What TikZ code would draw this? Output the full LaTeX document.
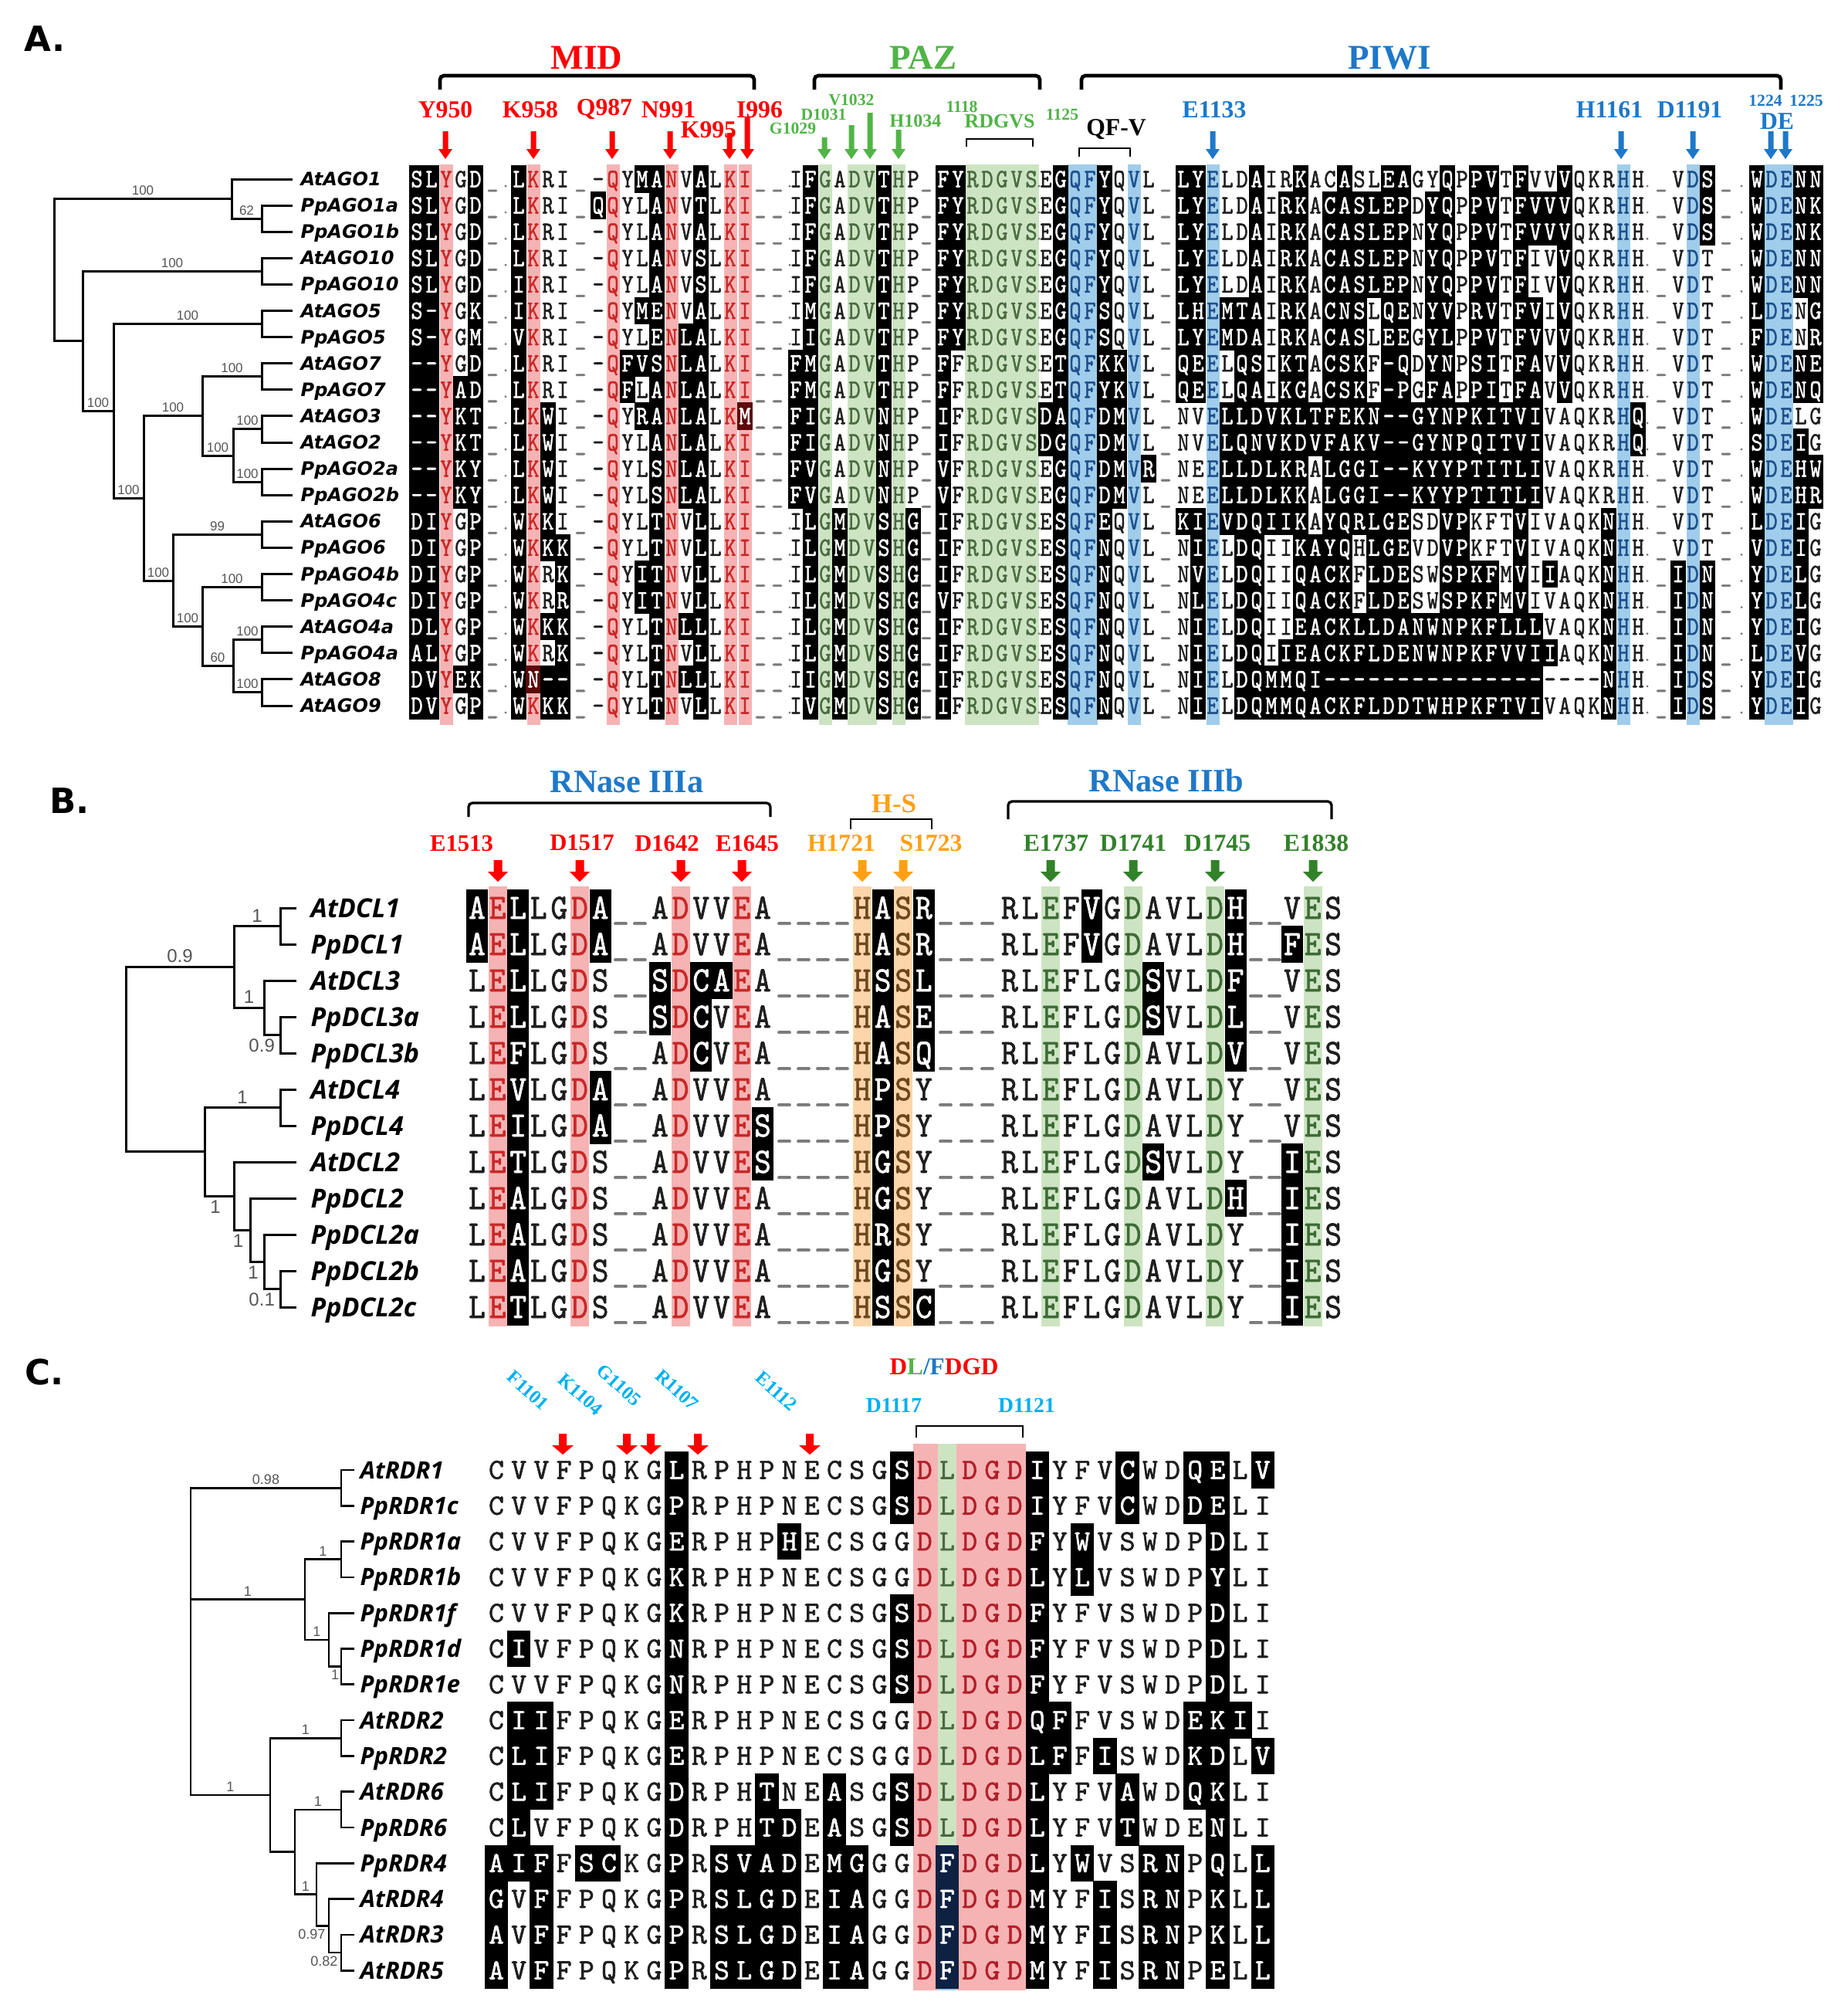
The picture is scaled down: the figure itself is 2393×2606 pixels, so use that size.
\documentclass[tikz,border=0pt]{standalone}
\usepackage{fontspec}
\usepackage{graphicx}
\usetikzlibrary{arrows.meta}
\newfontfamily\dvsans{DejaVu Sans}
\newfontfamily\osans{Open Sans}
\newfontfamily\lsans{Liberation Sans}
\newfontfamily\lserif{Liberation Serif}
\newfontfamily\seqfont[FakeBold=1.5]{lmmono10-regular.otf}
\newcommand\fsz[1]{\fontsize{#1pt}{#1pt}\selectfont}

\definecolor{tcn}{HTML}{1E1E1E}
\definecolor{tcr}{HTML}{C82828}
\definecolor{tcg}{HTML}{4A6A40}
\definecolor{tcb}{HTML}{1E508C}
\definecolor{tco}{HTML}{6E461E}
\definecolor{tcG}{HTML}{3D6B35}
\definecolor{tcd}{HTML}{B0202A}
\definecolor{bkred}{HTML}{5C0A0A}
\definecolor{bknavy}{HTML}{0E2142}
\definecolor{stpink}{HTML}{F6B3B3}
\definecolor{stgreen}{HTML}{CDE4C3}
\definecolor{stblue}{HTML}{A0CDEB}
\definecolor{storange}{HTML}{FBD6AA}
\definecolor{cred}{HTML}{FF0000}
\definecolor{cgreen}{HTML}{50B446}
\definecolor{cblue}{HTML}{1E78C8}
\definecolor{corange}{HTML}{FFA014}
\definecolor{cdgreen}{HTML}{32822A}
\definecolor{ccyan}{HTML}{00B0F0}
\definecolor{cgrey}{HTML}{555555}
\definecolor{gapgrey}{HTML}{7A7A7A}

\tikzset{
  seqch/.style={anchor=base, inner sep=0pt, outer sep=0pt},
  gapch/.style={anchor=base, inner sep=0pt, outer sep=0pt, text=gapgrey},
  bkn/.style={fill=black}, bkr/.style={fill=bkred}, bkd/.style={fill=bkred},
  bkg/.style={fill=black}, bkG/.style={fill=black}, bkb/.style={fill=bknavy}, bko/.style={fill=black},
  tline/.style={line width=0.9pt},
  brk/.style={line width=1.4pt, rounded corners=1.5pt},
  sbrk/.style={line width=0.8pt},
  plbl/.style={font=\dvsans\bfseries\fsz{13.5}, inner sep=0pt},
  domlbl/.style={font=\lserif\bfseries\fsz{13.5}, inner sep=0pt},
  reslbl/.style={font=\lserif\bfseries\fsz{9.5}, inner sep=0pt},
  smlbl/.style={font=\lserif\bfseries\fsz{6.5}, inner sep=0pt},
  bsA/.style={font=\lsans\fsz{5.1}, text=cgrey, inner sep=1pt},
  bsB/.style={font=\lsans\fsz{7.2}, text=cgrey, inner sep=1.2pt},
  bsC/.style={font=\lsans\fsz{5.4}, text=cgrey, inner sep=1pt},
  nmA/.style={font=\dvsans\bfseries\itshape\fsz{7.2}, anchor=base west, inner sep=0pt},
  nmB/.style={font=\osans\bfseries\itshape\fsz{10.2}, anchor=base west, inner sep=0pt},
  nmC/.style={font=\osans\bfseries\itshape\fsz{9.3}, anchor=base west, inner sep=0pt},
}

\newcommand\cpitch{19}
\newcommand\crowh{34.1}
\newcommand\ccap{10.5}
\newcommand\csx{0.85}
\newcommand\csqfont{\seqfont\fsz{10.3}}

\newcommand\alncell[5]{%
  \node[seqch, text=tc#4] at ({#1+#3*\cpitch}, {#2+\ccap}) {\scalebox{\csx}[1]{\csqfont #5}};}
\newcommand\alncellblack[5]{%
  \fill[bk#4] ({#1+(#3-0.5)*\cpitch-0.6}, {#2-\crowh/2-0.6}) rectangle ({#1+(#3+0.5)*\cpitch+0.6}, {#2+\crowh/2+0.6});
  \node[seqch, text=white] at ({#1+#3*\cpitch}, {#2+\ccap}) {\scalebox{\csx}[1]{\csqfont #5}};}

\ExplSyntaxOn
\int_new:N \l__aln_col_int
\tl_new:N \l__aln_tmpl_tl
\tl_new:N \l__aln_code_tl
\tl_new:N \l__aln_ch_tl
\bool_new:N \l__aln_black_bool
\NewDocumentCommand \alnseg { m m m m }
  {
    \tl_set:Nx \l__aln_tmpl_tl {#3}
    \int_zero:N \l__aln_col_int
    \tl_map_inline:nn {#4}
      {
        \tl_set:Nx \l__aln_code_tl { \tl_item:Nn \l__aln_tmpl_tl { \l__aln_col_int + 1 } }
        \str_case:nnF {##1}
          {
            { = } { \bool_set_true:N \l__aln_black_bool \tl_set:Nn \l__aln_ch_tl { - } }
            { - } { \bool_set_false:N \l__aln_black_bool \tl_set:Nn \l__aln_ch_tl { - } }
          }
          {
            \tl_set:Nx \l__aln_ch_tl { \str_uppercase:n {##1} }
            \str_if_eq:eeTF {##1} { \l__aln_ch_tl }
              { \bool_set_false:N \l__aln_black_bool }
              { \bool_set_true:N \l__aln_black_bool }
          }
        \bool_if:NTF \l__aln_black_bool
          { \use:x { \exp_not:N \alncellblack {#1} {#2} { \int_use:N \l__aln_col_int } { \l__aln_code_tl } { \l__aln_ch_tl } } }
          { \use:x { \exp_not:N \alncell {#1} {#2} { \int_use:N \l__aln_col_int } { \l__aln_code_tl } { \l__aln_ch_tl } } }
        \int_incr:N \l__aln_col_int
      }
  }
\ExplSyntaxOff

\newcommand\darr[7]{%
  \fill[#7] ({#1-#4},{#2}) -- ({#1+#4},{#2}) -- ({#1+#4},{#3-#6}) -- ({#1+#5},{#3-#6}) -- ({#1},{#3}) -- ({#1-#5},{#3-#6}) -- ({#1-#4},{#3-#6}) -- cycle;}

\newcommand\Arow[9]{%
  \pgfmathsetmacro\yy{232+34.1*#1}%
  \alnseg{540}{\yy}{nnrnn}{#2}%
  \alnseg{672}{\yy}{nrnn}{#3}%
  \alnseg{775}{\yy}{nrnnnrnnnrr}{#4}%
  \alnseg{1031}{\yy}{nngnggngn}{#5}%
  \alnseg{1222}{\yy}{nngggggnnbbnnbn}{#6}%
  \alnseg{1533}{\yy}{nnbnnnnnnnnnnnnnnnnnnnnnnnnnnnbn}{#7}%
  \alnseg{2174}{\yy}{nbn}{#8}%
  \alnseg{2276}{\yy}{nbbnn}{#9}}

\newcommand\Brow[6]{%
  \pgfmathsetmacro\yy{1176+47*#1}%
  \alnseg{618}{\yy}{nrnnnrn}{#2}%
  \alnseg{855}{\yy}{nrnnrn}{#3}%
  \alnseg{1117}{\yy}{onon}{#4}%
  \alnseg{1308}{\yy}{nnGnnnGnnnGn}{#5}%
  \alnseg{1674}{\yy}{nGn}{#6}}

\newcommand\tmC{nnnnnnnnnnnnnnnnnnndgdddnnnnnnnnnnn}
\newcommand\tmCb{nnnnnnnnnnnnnnnnnnndbdddnnnnnnnnnnn}
\newcommand\Crow[3]{%
  \pgfmathsetmacro\yy{1904+46.3*#1}%
  \alnseg{643}{\yy}{#2}{#3}}

\begin{document}
\begin{tikzpicture}[x=0.3pt,y=-0.3pt]
\fill[white] (0,0) rectangle (2393,2606);
\useasboundingbox (0,0) rectangle (2393,2606);

%%%%%%%%%%%%%%%%%%%% PANEL A %%%%%%%%%%%%%%%%%%%%
\node[plbl] (labA) at (58,50) {A.};
\node[domlbl, text=cred] (hMID) at (760,75) {MID};
\node[domlbl, text=cgreen] (hPAZ) at (1196,75) {PAZ};
\node[domlbl, text=cblue] (hPIWI) at (1800,75) {PIWI};
\draw[brk] (570,116) -- (570,98) -- (977,98) -- (977,116);
\draw[brk] (1055,116) -- (1055,98) -- (1347,98) -- (1347,116);
\draw[brk] (1401,116) -- (1401,98) -- (2307,98) -- (2307,116);

\node[reslbl, text=cred] at (577,142) {Y950};
\node[reslbl, text=cred] at (687,142) {K958};
\node[reslbl, text=cred] at (783,142) {Q987};
\node[reslbl, text=cred] at (866,142) {N991};
\node[reslbl, text=cred] at (984,142) {I996};
\node[reslbl, text=cred] at (918,168) {K995};
\node[smlbl, text=cgreen] at (1103,129) {V1032};
\node[smlbl, text=cgreen] at (1067,148) {D1031};
\node[smlbl, text=cgreen] at (1027,166) {G1029};
\node[smlbl, text=cgreen, font=\lserif\bfseries\fsz{7.2}] at (1186,157) {H1034};
\node[smlbl, text=cgreen] at (1246,138) {1118};
\node[smlbl, text=cgreen, font=\lserif\bfseries\fsz{7.8}] at (1295,157) {RDGVS};
\node[smlbl, text=cgreen] at (1376,148) {1125};
\node[reslbl, text=black] at (1446,168) {QF-V};
\node[reslbl, text=cblue] at (1573,142) {E1133};
\node[reslbl, text=cblue] at (2085,142) {H1161};
\node[reslbl, text=cblue] at (2189,142) {D1191};
\node[smlbl, text=cblue] at (2287,130) {1224};
\node[smlbl, text=cblue] at (2340,130) {1225};
\node[reslbl, text=cblue] at (2302,157) {DE};
\draw[sbrk] (1252,190) -- (1252,180) -- (1338,180) -- (1338,190);
\draw[sbrk] (1398,203) -- (1398,192) -- (1464,192) -- (1464,203);

\foreach \ax/\at in {577/170, 691/170, 793/170, 868/170, 945/172, 968/151}
  {\darr{\ax}{\at}{206}{3.5}{9}{13}{cred}}
\foreach \ax/\at in {1068/178, 1103/162, 1127/146, 1164/168}
  {\darr{\ax}{\at}{206}{3.5}{9}{13}{cgreen}}
\foreach \ax in {1571, 2100, 2193, 2294, 2313}
  {\darr{\ax}{170}{206}{3.5}{9}{13}{cblue}}

% stripes
\foreach \sx/\sw in {578/17, 691/17, 794/17, 870/17, 946/17, 965/17}
  {\fill[stpink] ({\sx-\sw/2},213) rectangle ({\sx+\sw/2},939);}
\foreach \sx/\sw in {1069/17, 1116.5/38, 1164/17, 1298/96}
  {\fill[stgreen] ({\sx-\sw/2},213) rectangle ({\sx+\sw/2},939);}
\foreach \sx/\sw in {1402.5/39, 1469/17, 1571/17, 2103/17, 2193/17, 2304.5/37}
  {\fill[stblue] ({\sx-\sw/2},213) rectangle ({\sx+\sw/2},939);}

% gaps
\foreach \r in {0,...,20}{
  \pgfmathsetmacro\gy{232+34.1*\r+10.5}
  \foreach \gx in {638,752,985,1007,1200,1510,2152,2236}
    {\node[gapch] at (\gx,\gy) {\scalebox{0.85}[1]{\csqfont\_}};}
  \foreach \gx in {655,1023,1346,2134,2256}
    {\fill[gapgrey] (\gx,{\gy-1.5}) circle[radius=1.6];}
}

\Arow{0}{slYGd}{lKRI}{-QYmaNVaLKI}{IfGADVtHP}{fyRDGVSEgQFyQVL}{lyELDaIRkACaSLeaGYqPpvTfVVvQKRHH}{VDs}{wDEnn}
\Arow{1}{slYGd}{lKRI}{qQYLaNVtLKI}{IfGADVtHP}{fyRDGVSEgQFyQVL}{lyELDaIrkAcaslepDyqPpvTfvvvQKRHH}{VDs}{wDEnk}
\Arow{2}{slYGd}{lKRI}{-QYLaNVaLKI}{IfGADVtHP}{fyRDGVSEgQFyQVL}{lyELDaIrkAcaslepNyqPpvTfvvvQKRHH}{VDs}{wDEnk}
\Arow{3}{slYGd}{lKRI}{-QYLaNVsLKI}{IfGADVtHP}{fyRDGVSEgQFyQVL}{lyELDaIrkAcaslepNyqPpvTfIVvQKRHH}{VDT}{wDEnn}
\Arow{4}{slYGd}{iKRI}{-QYLaNVsLKI}{IfGADVtHP}{fyRDGVSEgQFyQVL}{lyELDaIrkAcaslepNyqPpvTfIVvQKRHH}{VDT}{wDEnn}
\Arow{5}{s=YGk}{iKRI}{-QYmeNVaLKI}{ImGADVtHP}{fyRDGVSEgQFsQVL}{lhEmtaIrkAcnsLqeNyvPrvTfvIvQKRHH}{VDT}{lDENg}
\Arow{6}{s=YGm}{vKRI}{-QYLeNlaLKI}{IiGADVtHP}{fyRDGVSEgQFsQVL}{lyEmdaIrkAcasLeeGylPpvTfvVvQKRHH}{VDT}{fDENr}
\Arow{7}{==YGd}{lKRI}{-QfvsNlaLKI}{fmGADVtHP}{fFRDGVSEtQFkkVL}{qeELqsIktAcskF=qDynPsiTfaVvQKRHH}{VDT}{wDEne}
\Arow{8}{==Yad}{lKRI}{-QfLaNlaLKI}{fmGADVtHP}{fFRDGVSEtQFykVL}{qeELqaIkgAcskF=pGfaPpiTfaVvQKRHH}{VDT}{wDEnq}
\Arow{9}{==Ykt}{lKwI}{-QYraNlaLKm}{fiGADVnHP}{iFRDGVSdaQFdmVL}{NVElldvkltfekn==gynpkitviVAQKRHq}{VDT}{wDELG}
\Arow{10}{==Ykt}{lKwI}{-QYLaNlaLKI}{fiGADVnHP}{iFRDGVSdgQFdmVL}{NVElqnvkdvfakv==gynpqitviVAQKRHq}{VDT}{sDEiG}
\Arow{11}{==Yky}{lKwI}{-QYLsNlaLKI}{fvGADVnHP}{vFRDGVSEgQFdmVr}{NEElldlkrAlggi==kyyptitliVAQKRHH}{VDT}{wDEhw}
\Arow{12}{==Yky}{lKwI}{-QYLsNlaLKI}{fvGADVnHP}{vFRDGVSEgQFdmVL}{NEElldlkkAlggi==kyyptitliVAQKRHH}{VDT}{wDEhr}
\Arow{13}{diYGp}{wKkI}{-QYLtNVlLKI}{IlGmDVsHg}{iFRDGVSEsQFeQVL}{kiEvdqiikAyqrlgeSDvpKFTvIVAQKnHH}{VDT}{lDEiG}
\Arow{14}{diYGp}{wKkk}{-QYLtNVlLKI}{IlGmDVsHg}{iFRDGVSEsQFnQVL}{NiELdqIIkayqHlgeVDvpKFTvIVAQKnHH}{VDT}{vDEiG}
\Arow{15}{diYGp}{wKRk}{-QYitNVlLKI}{IlGmDVsHg}{iFRDGVSEsQFnQVL}{NvELdqIIqackFldeSWspkfMvIiAQKnHH}{iDn}{yDElG}
\Arow{16}{diYGp}{wKRr}{-QYitNVlLKI}{IlGmDVsHg}{vFRDGVSEsQFnQVL}{NlELdqIIqackFldeSWspkfMvIVAQKnHH}{iDn}{yDElG}
\Arow{17}{dlYGp}{wKkk}{-QYLtNllLKI}{IlGmDVsHg}{iFRDGVSEsQFnQVL}{NiELdqIIeacklldanwnpkflllVAQKnHH}{iDn}{yDEiG}
\Arow{18}{alYGp}{wKRk}{-QYLtNVlLKI}{IlGmDVsHg}{iFRDGVSEsQFnQVL}{NiELdqIieackfldenwnpkfvviiAQKnHH}{iDn}{lDEvG}
\Arow{19}{dvYek}{wn==}{-QYLtNllLKI}{IiGmDVsHg}{iFRDGVSEsQFnQVL}{NiELdqmmqi===============----nHH}{iDs}{yDEiG}
\Arow{20}{dvYGp}{wKkk}{-QYLtNVlLKI}{IvGmDVsHg}{iFRDGVSEsQFnQVL}{NiELdqmmqackflddtwhpkftviVAQKnHH}{iDs}{yDEiG}

% names and tree A
\foreach \nm [count=\i from 0] in {AtAGO1,PpAGO1a,PpAGO1b,AtAGO10,PpAGO10,AtAGO5,PpAGO5,AtAGO7,PpAGO7,AtAGO3,AtAGO2,PpAGO2a,PpAGO2b,AtAGO6,PpAGO6,PpAGO4b,PpAGO4c,AtAGO4a,PpAGO4a,AtAGO8,AtAGO9}{
  \node[nmA] (nA\i) at (389,{232+34.1*\i+8.5}) {\nm};
  \coordinate (aL\i) at (379,{232+34.1*\i});
}
\coordinate (aR) at (70,349.8);
\coordinate (a1) at (300,257.6);
\coordinate (a1p) at (339,283.15);
\coordinate (a10n) at (107,441.9);
\coordinate (a10) at (339,351.35);
\coordinate (a5n) at (147,532.5);
\coordinate (a5) at (339,419.55);
\coordinate (amid) at (186,645.45);
\coordinate (a723) at (262,538.9);
\coordinate (a7) at (339,487.75);
\coordinate (a23) at (302,590.05);
\coordinate (a32) at (339,555.95);
\coordinate (a2ab) at (339,624.15);
\coordinate (a64) at (224,752.0);
\coordinate (a6) at (339,692.35);
\coordinate (a4b4) at (262,811.7);
\coordinate (a4bc) at (339,760.55);
\coordinate (a4) at (302,862.85);
\coordinate (a4a) at (339,828.75);
\coordinate (a89) at (339,896.95);
\begin{scope}[tline]
\draw (aR) |- node[bsA,pos=0.75,above]{100} (a1);
\draw (aR) |- (a10n);
\draw (a1) |- (aL0);
\draw (a1) |- node[bsA,pos=0.75,above]{62} (a1p);
\draw (a1p) |- (aL1); \draw (a1p) |- (aL2);
\draw (a10n) |- node[bsA,pos=0.75,above]{100} (a10);
\draw (a10n) |- node[bsA,pos=0.75,above]{100} (a5n);
\draw (a10) |- (aL3); \draw (a10) |- (aL4);
\draw (a5n) |- node[bsA,pos=0.75,above]{100} (a5);
\draw (a5n) |- node[bsA,pos=0.75,above]{100} (amid);
\draw (a5) |- (aL5); \draw (a5) |- (aL6);
\draw (amid) |- node[bsA,pos=0.75,above]{100} (a723);
\draw (amid) |- node[bsA,pos=0.75,above]{100} (a64);
\draw (a723) |- node[bsA,pos=0.75,above]{100} (a7);
\draw (a723) |- node[bsA,pos=0.75,above]{100} (a23);
\draw (a7) |- (aL7); \draw (a7) |- (aL8);
\draw (a23) |- node[bsA,pos=0.75,above]{100} (a32);
\draw (a23) |- node[bsA,pos=0.75,above]{100} (a2ab);
\draw (a32) |- (aL9); \draw (a32) |- (aL10);
\draw (a2ab) |- (aL11); \draw (a2ab) |- (aL12);
\draw (a64) |- node[bsA,pos=0.75,above]{99} (a6);
\draw (a64) |- node[bsA,pos=0.75,above]{100} (a4b4);
\draw (a6) |- (aL13); \draw (a6) |- (aL14);
\draw (a4b4) |- node[bsA,pos=0.75,above]{100} (a4bc);
\draw (a4b4) |- node[bsA,pos=0.75,above]{60} (a4);
\draw (a4bc) |- (aL15); \draw (a4bc) |- (aL16);
\draw (a4) |- node[bsA,pos=0.75,above]{100} (a4a);
\draw (a4) |- node[bsA,pos=0.75,above]{100} (a89);
\draw (a4a) |- (aL17); \draw (a4a) |- (aL18);
\draw (a89) |- (aL19); \draw (a89) |- (aL20);
\end{scope}

%%%%%%%%%%%%%%%%%%%% PANEL B %%%%%%%%%%%%%%%%%%%%
\renewcommand\cpitch{26.6}
\renewcommand\crowh{47}
\renewcommand\ccap{14}
\renewcommand\csx{0.9}
\renewcommand\csqfont{\seqfont\fsz{13.8}}

\node[plbl] (labB) at (90,1037) {B.};
\node[domlbl, text=cblue, font=\lserif\bfseries\fsz{12.7}] (hR3a) at (812,1013) {RNase IIIa};
\node[domlbl, text=cblue, font=\lserif\bfseries\fsz{12.7}] (hR3b) at (1511,1011) {RNase IIIb};
\node[domlbl, text=corange, font=\lserif\bfseries\fsz{10.5}] (hHS) at (1158,1041) {H-S};
\draw[brk, line width=1pt] (607,1058) -- (607,1040) -- (998,1040) -- (998,1058);
\draw[brk, line width=1pt] (1306,1061) -- (1306,1038) -- (1725,1038) -- (1725,1061);
\draw[sbrk] (1102,1074) -- (1102,1061) -- (1207,1061) -- (1207,1074);

\foreach \lx/\lt in {598/E1513, 754/D1517, 864/D1642, 968/E1645}
  {\node[reslbl, text=cred, font=\lserif\bfseries\fsz{9.2}] at (\lx,1092) {\lt};}
\foreach \lx/\lt in {1090/H1721, 1206/S1723}
  {\node[reslbl, text=corange] at (\lx,1092) {\lt};}
\foreach \lx/\lt in {1368/E1737, 1468/D1741, 1577/D1745, 1705/E1838}
  {\node[reslbl, text=cdgreen] at (\lx,1092) {\lt};}
\foreach \ax in {645, 751, 882, 961} {\darr{\ax}{1114}{1142}{5.5}{13}{13}{cred}}
\foreach \ax in {1117, 1170} {\darr{\ax}{1114}{1142}{5.5}{13}{13}{corange}}
\foreach \ax in {1361, 1468, 1574, 1701} {\darr{\ax}{1114}{1142}{5.5}{13}{13}{cdgreen}}

\foreach \sx in {644.6, 751, 881.6, 961.4} {\fill[stpink] ({\sx-12},1148) rectangle ({\sx+12},1718);}
\foreach \sx in {1117, 1170.2} {\fill[storange] ({\sx-12},1148) rectangle ({\sx+12},1718);}
\foreach \sx in {1361.2, 1467.6, 1574, 1700.6} {\fill[stgreen] ({\sx-12},1148) rectangle ({\sx+12},1718);}

\foreach \r in {0,...,11}{
  \pgfmathsetmacro\gy{1176+47*\r+14}
  \foreach \gx in {804,829,1016,1041,1066,1091,1225,1252,1279,1627,1651}
    {\node[gapch] at (\gx,\gy) {\scalebox{0.9}[1]{\csqfont\_}};}
}

\Brow{0}{aElLGDa}{ADVVEA}{HaSr}{RLEFvGDAVLDh}{VES}
\Brow{1}{aElLGDa}{ADVVEA}{HaSr}{RLEFvGDAVLDh}{fES}
\Brow{2}{LElLGDS}{sDcaEA}{HsSl}{RLEFLGDsVLDf}{VES}
\Brow{3}{LElLGDS}{sDcVEA}{HaSe}{RLEFLGDsVLDl}{VES}
\Brow{4}{LEfLGDS}{ADcVEA}{HaSq}{RLEFLGDAVLDv}{VES}
\Brow{5}{LEvLGDa}{ADVVEA}{HpSY}{RLEFLGDAVLDY}{VES}
\Brow{6}{LEiLGDa}{ADVVEs}{HpSY}{RLEFLGDAVLDY}{VES}
\Brow{7}{LEtLGDS}{ADVVEs}{HgSY}{RLEFLGDsVLDY}{iES}
\Brow{8}{LEaLGDS}{ADVVEA}{HgSY}{RLEFLGDAVLDh}{iES}
\Brow{9}{LEaLGDS}{ADVVEA}{HrSY}{RLEFLGDAVLDY}{iES}
\Brow{10}{LEaLGDS}{ADVVEA}{HgSY}{RLEFLGDAVLDY}{iES}
\Brow{11}{LEtLGDS}{ADVVEA}{HsSc}{RLEFLGDAVLDY}{iES}

\foreach \nm [count=\i from 0] in {AtDCL1,PpDCL1,AtDCL3,PpDCL3a,PpDCL3b,AtDCL4,PpDCL4,AtDCL2,PpDCL2,PpDCL2a,PpDCL2b,PpDCL2c}{
  \node[nmB] (nB\i) at (402,{1176+47*\i+12}) {\nm};
  \coordinate (bL\i) at (384,{1176+47*\i});
}
\coordinate (bR) at (163,1372.1);
\coordinate (bup) at (303,1252.4);
\coordinate (bp1) at (363,1199.5);
\coordinate (bc3) at (342,1305.25);
\coordinate (bp3) at (363,1340.5);
\coordinate (blo) at (265,1491.8);
\coordinate (bp4) at (363,1434.5);
\coordinate (bc2) at (303,1549.1);
\coordinate (b22) at (324,1593.1);
\coordinate (b2a) at (342,1634.25);
\coordinate (bp2bc) at (363,1669.5);
\begin{scope}[tline]
\draw (bR) |- node[bsB,pos=0.75,above]{0.9} (bup);
\draw (bR) |- (blo);
\draw (bup) |- node[bsB,pos=0.75,above]{1} (bp1);
\draw (bup) |- node[bsB,pos=0.75,above]{1} (bc3);
\draw (bp1) |- (bL0); \draw (bp1) |- (bL1);
\draw (bc3) |- (bL2);
\draw (bc3) |- node[bsB,pos=0.75,below,xshift=-4pt]{0.9} (bp3);
\draw (bp3) |- (bL3); \draw (bp3) |- (bL4);
\draw (blo) |- node[bsB,pos=0.75,above]{1} (bp4);
\draw (blo) |- node[bsB,pos=0.75,below,xshift=-1.5pt]{1} (bc2);
\draw (bp4) |- (bL5); \draw (bp4) |- (bL6);
\draw (bc2) |- (bL7);
\draw (bc2) |- node[bsB,pos=0.75,below,xshift=-1.5pt]{1} (b22);
\draw (b22) |- (bL8);
\draw (b22) |- node[bsB,pos=0.75,below,xshift=-1.5pt]{1} (b2a);
\draw (b2a) |- (bL9);
\draw (b2a) |- node[bsB,pos=0.75,below,xshift=-4pt]{0.1} (bp2bc);
\draw (bp2bc) |- (bL10); \draw (bp2bc) |- (bL11);
\end{scope}

%%%%%%%%%%%%%%%%%%%% PANEL C %%%%%%%%%%%%%%%%%%%%
\renewcommand\cpitch{29.2}
\renewcommand\crowh{46.3}
\renewcommand\ccap{11.5}
\renewcommand\csx{1}
\renewcommand\csqfont{\seqfont\fsz{11.4}}

\node[plbl] (labC) at (58,1777) {C.};
\foreach \lx/\ly/\lt in {684/1801/F1101, 752/1806/K1104, 802/1794/G1105, 877/1800/R1107, 1006/1802/E1112}
  {\node[reslbl, text=ccyan, font=\lserif\bfseries\fsz{7.4}, rotate=-42] at (\lx,\ly) {\lt};}
\node[reslbl, font=\lserif\bfseries\fsz{9.4}] (hDL) at (1223,1770) {\textcolor{cred}{D}\textcolor{cgreen}{L}\textcolor{cblue}{/F}\textcolor{cred}{DGD}};
\node[reslbl, text=ccyan, font=\lserif\bfseries\fsz{8.3}] at (1158,1820) {D1117};
\node[reslbl, text=ccyan, font=\lserif\bfseries\fsz{8.3}] at (1330,1820) {D1121};
\draw[sbrk] (1187,1862) -- (1187,1847) -- (1325,1847) -- (1325,1862);
\foreach \ax in {729, 812, 843, 904, 1049} {\darr{\ax}{1857}{1884}{5}{14}{12}{cred}}

\fill[stpink] (1183.4,1870) rectangle (1329.4,2578);
\fill[stgreen] (1215,1870) rectangle (1239,2390);
\fill[stblue] (1215,2390) rectangle (1239,2578);

\Crow{0}{\tmC}{CVVFPQKGlRPHPNECSGsDLDGDiYFVcWDqeLv}
\Crow{1}{\tmC}{CVVFPQKGpRPHPNECSGsDLDGDiYFVcWDdeLI}
\Crow{2}{\tmC}{CVVFPQKGeRPHPhECSGGDLDGDfYwVSWDPdLI}
\Crow{3}{\tmC}{CVVFPQKGkRPHPNECSGGDLDGDlYlVSWDPyLI}
\Crow{4}{\tmC}{CVVFPQKGkRPHPNECSGsDLDGDfYFVSWDPdLI}
\Crow{5}{\tmC}{CiVFPQKGnRPHPNECSGsDLDGDfYFVSWDPdLI}
\Crow{6}{\tmC}{CVVFPQKGnRPHPNECSGsDLDGDfYFVSWDPdLI}
\Crow{7}{\tmC}{CiiFPQKGeRPHPNECSGGDLDGDqfFVSWDekiI}
\Crow{8}{\tmC}{CliFPQKGeRPHPNECSGGDLDGDlfFiSWDkdLv}
\Crow{9}{\tmC}{CliFPQKGdRPHtNEaSGsDLDGDlYFVaWDqkLI}
\Crow{10}{\tmC}{ClVFPQKGdRPHtdEaSGsDLDGDlYFVtWDEnLI}
\Crow{11}{\tmCb}{aifFscKGpRsvadEmgGGDfDGDlYwVSrnPqLl}
\Crow{12}{\tmCb}{gVfFPQKGpRslgdEiaGGDfDGDmYFiSrnPkLl}
\Crow{13}{\tmCb}{aVfFPQKGpRslgdEiaGGDfDGDmYFiSrnPkLl}
\Crow{14}{\tmCb}{aVfFPQKGpRslgdEiaGGDfDGDmYFiSrnPeLl}

\foreach \nm [count=\i from 0] in {AtRDR1,PpRDR1c,PpRDR1a,PpRDR1b,PpRDR1f,PpRDR1d,PpRDR1e,AtRDR2,PpRDR2,AtRDR6,PpRDR6,PpRDR4,AtRDR4,AtRDR3,AtRDR5}{
  \node[nmC] (nC\i) at (466,{1904+46.3*\i+11}) {\nm};
  \coordinate (cL\i) at (459,{1904+46.3*\i});
}
\coordinate (cR) at (247,2126);
\coordinate (cp1) at (442,1927.15);
\coordinate (c1m) at (395,2071.8);
\coordinate (cp1ab) at (442,2019.75);
\coordinate (c1f) at (426,2123.9);
\coordinate (cp1de) at (442,2158.65);
\coordinate (c2) at (350,2325.0);
\coordinate (cp2) at (442,2251.25);
\coordinate (c64) at (382,2398.8);
\coordinate (cp6) at (442,2343.85);
\coordinate (c44) at (410,2453.8);
\coordinate (c4) at (426,2494.3);
\coordinate (cp35) at (442,2529.05);
\begin{scope}[tline, line width=0.8pt]
\draw (cR) |- node[bsC,pos=0.75,above]{0.98} (cp1);
\draw (cR) |- node[bsC,pos=0.75,above]{1} (c1m);
\draw (cR) |- node[bsC,pos=0.75,above]{1} (c2);
\draw (cp1) |- (cL0); \draw (cp1) |- (cL1);
\draw (c1m) |- node[bsC,pos=0.75,above]{1} (cp1ab);
\draw (c1m) |- node[bsC,pos=0.75,above]{1} (c1f);
\draw (cp1ab) |- (cL2); \draw (cp1ab) |- (cL3);
\draw (c1f) |- (cL4);
\draw (c1f) |- node[bsC,pos=0.75,below]{1} (cp1de);
\draw (cp1de) |- (cL5); \draw (cp1de) |- (cL6);
\draw (c2) |- node[bsC,pos=0.75,above]{1} (cp2);
\draw (c2) |- (c64);
\draw (cp2) |- (cL7); \draw (cp2) |- (cL8);
\draw (c64) |- node[bsC,pos=0.75,above]{1} (cp6);
\draw (c64) |- node[bsC,pos=0.75,above]{1} (c44);
\draw (cp6) |- (cL9); \draw (cp6) |- (cL10);
\draw (c44) |- (cL11);
\draw (c44) |- node[bsC,pos=1,below left]{0.97} (c4);
\draw (c4) |- (cL12);
\draw (c4) |- node[bsC,pos=1,below left]{0.82} (cp35);
\draw (cp35) |- (cL13); \draw (cp35) |- (cL14);
\end{scope}
\end{tikzpicture}
\end{document}
